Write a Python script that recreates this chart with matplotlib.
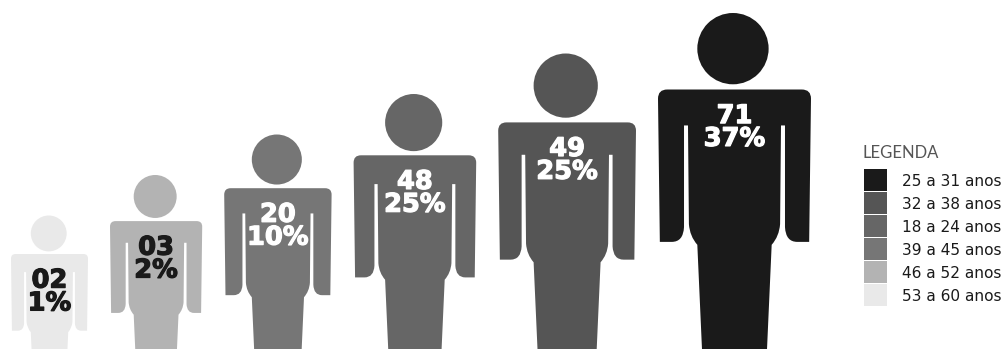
import matplotlib
matplotlib.use('Agg')
import matplotlib.pyplot as plt
import matplotlib.patheffects as pe
from matplotlib.patches import Circle, PathPatch, Rectangle
from matplotlib.path import Path

# Respondents per age group, smallest group first
age_groups = ['53 a 60 anos', '46 a 52 anos', '39 a 45 anos', '18 a 24 anos', '32 a 38 anos', '25 a 31 anos']
count_labels = ['02', '03', '20', '48', '49', '71']
percent_labels = ['1%', '2%', '10%', '25%', '25%', '37%']
fill_colors = ['#e9e9e9', '#b3b3b3', '#767676', '#666666', '#555555', '#1a1a1a']
text_colors = ['#1a1a1a', '#1a1a1a', 'white', 'white', 'white', 'white']

# Layout, in pixels
WIDTH, HEIGHT = 1007, 349
FIRST_LEFT = 11
GAP = 22
BASE_WIDTH = 77
WIDTH_STEP = 15.2
FIRST_HEAD_TOP = 215.5
HEAD_STEP = 40.5


def person_path(cx, top, w):
    # left half of the body outline, from the shoulder down to the feet
    left = [
        (Path.MOVETO, -0.44, 0.0),
        (Path.CURVE3, -0.5, 0.0),
        (Path.CURVE3, -0.5, 0.06),
        (Path.LINETO, -0.488, 0.996),
        (Path.LINETO, -0.41, 0.996),
        (Path.CURVE3, -0.335, 0.996),
        (Path.CURVE3, -0.33, 0.90),
        (Path.LINETO, -0.33, 0.235),
        (Path.LINETO, -0.304, 0.235),
        (Path.LINETO, -0.298, 0.88),
        (Path.CURVE3, -0.292, 0.96),
        (Path.CURVE3, -0.243, 1.015),
        (Path.LINETO, -0.19, 2.2),
    ]
    # right half walks back up
    right = [
        (Path.LINETO, 0.19, 2.2),
        (Path.LINETO, 0.243, 1.015),
        (Path.CURVE3, 0.292, 0.96),
        (Path.CURVE3, 0.298, 0.88),
        (Path.LINETO, 0.304, 0.235),
        (Path.LINETO, 0.33, 0.235),
        (Path.LINETO, 0.33, 0.90),
        (Path.CURVE3, 0.335, 0.996),
        (Path.CURVE3, 0.41, 0.996),
        (Path.LINETO, 0.488, 0.996),
        (Path.LINETO, 0.5, 0.06),
        (Path.CURVE3, 0.5, 0.0),
        (Path.CURVE3, 0.44, 0.0),
    ]
    codes = [s[0] for s in left + right] + [Path.CLOSEPOLY]
    verts = [(cx + s[1] * w, top + s[2] * w) for s in left + right]
    verts.append(verts[0])
    return Path(verts, codes)


fig = plt.figure(figsize=(WIDTH / 100, HEIGHT / 100), dpi=100)
ax = fig.add_axes([0, 0, 1, 1])
ax.set_xlim(0, WIDTH)
ax.set_ylim(HEIGHT, 0)
ax.axis('off')

left_edge = FIRST_LEFT
for i, color in enumerate(fill_colors):
    w = BASE_WIDTH + WIDTH_STEP * i
    cx = left_edge + w / 2
    head_top = FIRST_HEAD_TOP - HEAD_STEP * i
    body_top = head_top + 0.5 * w
    head_r = 0.233 * w

    ax.add_patch(Circle((cx - 0.01 * w, head_top + head_r), head_r, fc=color, ec='none'))
    ax.add_patch(PathPatch(person_path(cx, body_top, w), fc=color, ec='none'))

    # count over percentage, thickened a little with a stroke of the same colour
    ax.text(cx, body_top + 38, count_labels[i] + '\n' + percent_labels[i], color=text_colors[i],
            fontsize=18.5, fontweight='bold', ha='center', va='center', linespacing=0.84,
            path_effects=[pe.withStroke(linewidth=0.9, foreground=text_colors[i])])
    left_edge += w + GAP

# Legend, largest group on top
ax.text(863, 151, 'LEGENDA', family='Lato', fontsize=12, color='#555555', ha='left', va='center_baseline')
for row, (label, color) in enumerate(zip(reversed(age_groups), reversed(fill_colors))):
    y = 169 + row * 23
    ax.add_patch(Rectangle((864, y), 23, 21.5, fc=color, ec='none'))
    ax.text(902, y + 11, label, fontsize=11.1, color='#1a1a1a', ha='left', va='center_baseline')

fig.savefig('out.png', dpi=100, facecolor='white')
